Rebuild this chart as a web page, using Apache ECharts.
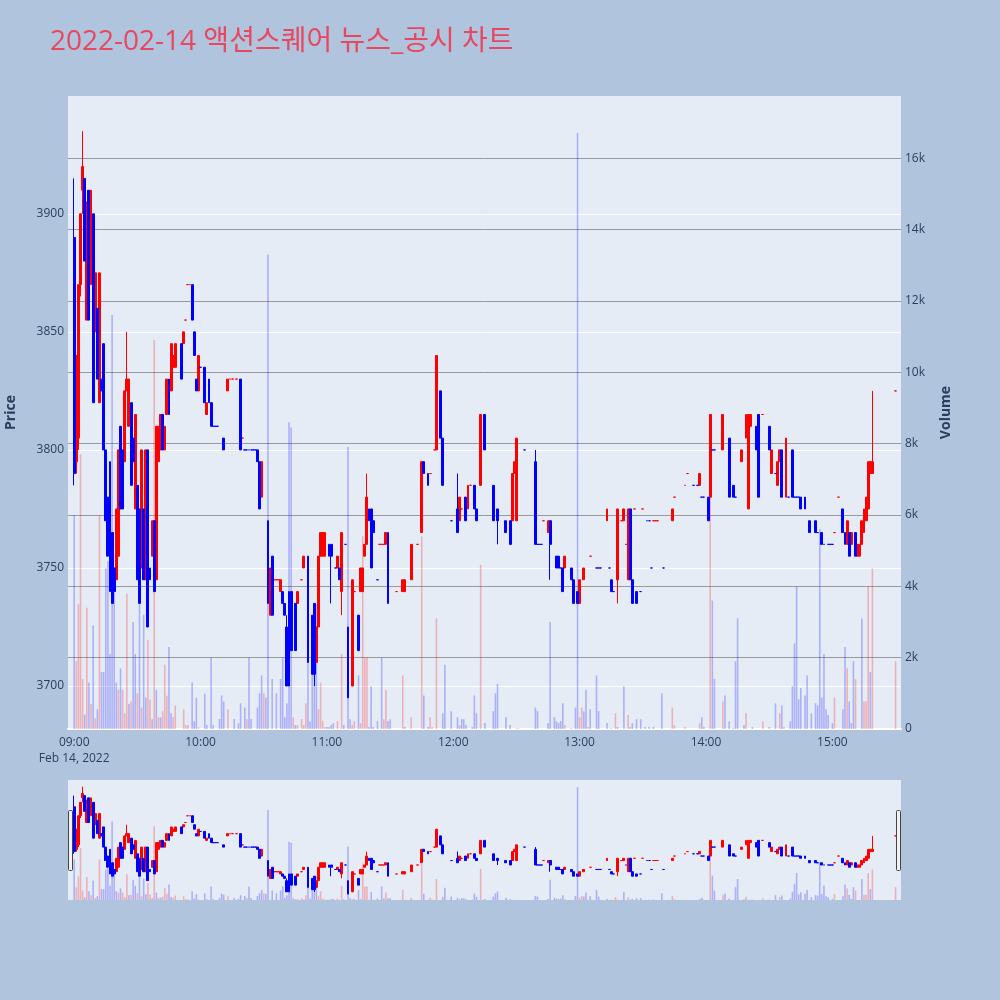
<!DOCTYPE html>
<html><head><meta charset="utf-8">
<script src="https://cdn.jsdelivr.net/npm/echarts@6/dist/echarts.min.js"></script>
<style>html,body{margin:0;padding:0;background:#b0c4de}#chart{width:1000px;height:1000px}</style>
</head><body><div id="chart"></div>
<script>
// rows: [minute after 09:00, open, high, low, close, dir]
const candles0900 = [
[0,3890,3915,3785,3790,'d'],[1,3795,3840,3790,3840,'u'],[2,3805,3870,3800,3870,'u'],[3,3870,3900,3865,3900,'u'],
[4,3910,3935,3900,3920,'u'],[5,3915,3915,3880,3880,'d'],[6,3855,3905,3855,3905,'u'],[7,3910,3910,3855,3855,'d'],
[8,3870,3910,3870,3910,'u'],[9,3900,3900,3820,3820,'d'],[10,3850,3875,3850,3875,'u'],[11,3860,3860,3830,3830,'d'],
[12,3820,3875,3820,3875,'u'],[13,3830,3830,3825,3825,'d'],[14,3845,3845,3800,3800,'d'],[15,3800,3800,3770,3770,'d'],
[16,3780,3780,3755,3755,'d'],[17,3795,3795,3740,3740,'d'],[18,3765,3765,3735,3735,'d'],[19,3750,3750,3740,3740,'d'],
[20,3745,3775,3745,3775,'u'],[21,3755,3800,3755,3800,'u'],[22,3810,3810,3775,3775,'d'],[23,3800,3800,3775,3775,'d'],
[24,3795,3825,3795,3825,'u'],[25,3825,3850,3825,3830,'u'],[26,3810,3830,3810,3830,'u'],[27,3820,3820,3785,3785,'d'],
[28,3805,3805,3795,3795,'d'],[29,3775,3815,3775,3815,'u'],[30,3785,3785,3745,3745,'d'],[31,3775,3775,3735,3735,'d'],
[32,3750,3800,3750,3800,'u'],[33,3775,3775,3745,3745,'d'],[34,3745,3800,3745,3800,'u'],[35,3800,3800,3725,3725,'d'],
[36,3750,3750,3745,3745,'d'],[37,3755,3770,3755,3770,'u'],[38,3770,3770,3740,3740,'d'],[39,3745,3810,3745,3810,'u'],
[40,3795,3810,3795,3810,'u'],[41,3800,3815,3800,3815,'u'],[42,3815,3815,3800,3800,'d'],[43,3800,3810,3800,3810,'u'],
[44,3815,3830,3815,3830,'u'],[45,3830,3830,3815,3815,'d'],[46,3825,3845,3825,3845,'u'],[47,3835,3840,3835,3840,'u'],
[48,3835,3845,3835,3845,'u'],
[51,3845,3845,3830,3830,'d'],[52,3845,3850,3845,3850,'u'],[53,3855,3855,3855,3855,'u'],[54,3870,3870,3870,3870,'u'],
[55,3870,3870,3870,3870,'u'],[56,3870,3870,3855,3855,'d'],[57,3850,3850,3840,3840,'d'],[58,3830,3830,3825,3825,'d'],
[59,3825,3840,3825,3840,'u']
];
const candles1000 = [
[60,3835,3835,3835,3835,'d'],[62,3835,3835,3820,3820,'d'],[63,3815,3820,3815,3820,'u'],[64,3830,3830,3820,3820,'d'],
[65,3820,3820,3810,3810,'d'],[66,3810,3810,3810,3810,'d'],[67,3810,3810,3810,3810,'d'],[68,3810,3810,3810,3810,'d'],
[71,3805,3805,3800,3800,'d'],[73,3825,3830,3825,3830,'u'],[74,3830,3830,3830,3830,'u'],[75,3830,3830,3830,3830,'u'],
[77,3830,3830,3830,3830,'u'],[79,3830,3830,3800,3800,'d'],[80,3805,3805,3805,3805,'u'],[81,3800,3800,3800,3800,'d'],
[82,3800,3800,3800,3800,'d'],[83,3800,3800,3800,3800,'d'],[84,3800,3800,3800,3800,'d'],[85,3800,3800,3800,3800,'d'],
[86,3800,3800,3800,3800,'d'],[87,3800,3800,3795,3795,'d'],[88,3795,3795,3775,3775,'d'],[89,3780,3795,3780,3795,'u'],
[92,3770,3770,3735,3735,'d'],[93,3730,3750,3730,3750,'u'],[94,3755,3755,3730,3730,'d'],[95,3745,3745,3745,3745,'u'],
[96,3745,3745,3745,3745,'u'],[97,3745,3745,3745,3745,'u'],[98,3740,3745,3740,3745,'u'],[99,3740,3740,3735,3735,'d'],
[100,3735,3735,3730,3730,'d'],[101,3725,3730,3700,3700,'d'],[102,3740,3740,3700,3700,'d'],[103,3740,3740,3715,3715,'d'],
[105,3735,3735,3715,3715,'d'],[106,3735,3740,3735,3740,'u'],[108,3745,3745,3745,3745,'u'],[109,3750,3755,3750,3755,'u'],
[111,3755,3755,3710,3710,'d'],[113,3730,3730,3705,3705,'d'],[114,3735,3735,3700,3705,'d'],[115,3710,3725,3710,3725,'u'],
[116,3725,3755,3725,3755,'u'],[117,3755,3765,3755,3765,'u'],[118,3755,3765,3755,3765,'u'],[119,3755,3765,3755,3765,'u']
];
const candles1100 = [
[121,3760,3760,3755,3755,'d'],[122,3760,3760,3735,3755,'d'],[124,3750,3750,3750,3750,'d'],[125,3750,3755,3750,3755,'u'],
[126,3750,3750,3745,3745,'d'],[127,3740,3765,3730,3765,'u'],[129,3760,3760,3760,3760,'d'],[130,3725,3725,3695,3695,'d'],
[132,3700,3745,3700,3745,'u'],[133,3740,3740,3740,3740,'u'],[135,3730,3730,3715,3715,'d'],[136,3740,3750,3740,3750,'u'],
[137,3740,3750,3740,3750,'u'],[138,3755,3760,3755,3760,'u'],[139,3760,3790,3760,3780,'u'],[140,3775,3775,3770,3770,'d'],
[141,3775,3775,3750,3750,'d'],[142,3770,3770,3765,3765,'d'],[144,3745,3745,3745,3745,'d'],[145,3760,3760,3760,3760,'u'],
[146,3760,3760,3760,3760,'u'],[147,3760,3760,3760,3760,'u'],[148,3760,3765,3760,3765,'u'],[149,3765,3765,3735,3735,'d'],
[153,3740,3740,3740,3740,'u'],[156,3740,3745,3740,3745,'u'],[157,3740,3745,3740,3745,'u'],[160,3745,3760,3745,3760,'u'],
[163,3760,3760,3760,3760,'u'],[165,3765,3795,3765,3795,'u'],[166,3795,3795,3790,3790,'d'],[168,3790,3790,3785,3785,'d'],
[169,3790,3790,3790,3790,'u'],[171,3800,3800,3800,3800,'u'],[172,3800,3840,3800,3840,'u'],[174,3825,3825,3805,3805,'d'],
[175,3805,3805,3785,3785,'d'],[179,3770,3770,3770,3770,'d']
];
const candles1200 = [
[182,3775,3790,3765,3765,'d'],[183,3770,3780,3770,3780,'u'],[184,3775,3775,3775,3775,'u'],[186,3780,3780,3770,3770,'d'],
[187,3775,3785,3775,3785,'u'],[188,3785,3785,3785,3785,'u'],[190,3785,3785,3775,3775,'d'],[191,3775,3775,3770,3770,'d'],
[193,3785,3815,3785,3815,'u'],[195,3815,3815,3800,3800,'d'],[199,3785,3785,3770,3770,'d'],[201,3775,3775,3760,3770,'d'],
[205,3770,3770,3765,3765,'d'],[207,3770,3770,3760,3760,'d'],[208,3770,3790,3770,3790,'u'],[209,3790,3795,3790,3795,'u'],
[210,3770,3805,3770,3805,'u'],[214,3800,3800,3800,3800,'d'],[219,3795,3800,3760,3760,'d'],[220,3760,3760,3760,3760,'d'],
[221,3760,3760,3760,3760,'d'],[222,3760,3760,3760,3760,'d'],[223,3770,3770,3770,3770,'u'],[225,3765,3770,3765,3770,'u'],
[226,3770,3770,3745,3760,'d'],[229,3755,3755,3750,3750,'d'],[230,3755,3755,3750,3750,'d'],[231,3750,3750,3750,3750,'d'],
[232,3750,3750,3740,3740,'d'],[233,3750,3755,3750,3755,'u'],[236,3750,3750,3745,3745,'d'],[237,3745,3745,3735,3735,'d'],
[239,3740,3740,3735,3735,'d']
];
const candles1300 = [
[240,3735,3745,3735,3745,'u'],[242,3745,3750,3745,3750,'u'],[245,3755,3755,3755,3755,'u'],[248,3750,3750,3750,3750,'d'],
[249,3750,3750,3750,3750,'d'],[250,3750,3750,3750,3750,'d'],[253,3770,3775,3770,3775,'u'],[254,3750,3750,3750,3750,'d'],
[255,3745,3745,3740,3740,'d'],[256,3740,3740,3740,3740,'d'],[258,3745,3775,3735,3775,'u'],[260,3770,3770,3770,3770,'u'],
[261,3770,3775,3770,3775,'u'],[262,3760,3760,3760,3760,'d'],[263,3745,3775,3745,3775,'u'],[264,3775,3775,3745,3745,'d'],
[265,3745,3745,3735,3735,'d'],[266,3775,3775,3775,3775,'u'],[267,3740,3740,3735,3735,'d'],[269,3740,3740,3740,3740,'d'],
[270,3775,3775,3775,3775,'u'],[272,3770,3770,3770,3770,'d'],[273,3770,3770,3770,3770,'d'],[274,3750,3750,3750,3750,'d'],
[275,3770,3770,3770,3770,'u'],[276,3770,3770,3770,3770,'u'],[277,3770,3770,3770,3770,'u'],[280,3750,3750,3750,3750,'d'],
[284,3770,3775,3770,3775,'u'],[285,3780,3780,3780,3780,'u'],[290,3785,3785,3785,3785,'u'],[291,3790,3790,3790,3790,'u'],
[294,3785,3785,3785,3785,'d'],[296,3785,3785,3785,3785,'d'],[297,3785,3790,3785,3790,'u'],[298,3780,3780,3780,3780,'d'],
[299,3780,3780,3780,3780,'d']
];
const candles1400 = [
[301,3780,3780,3770,3770,'d'],[302,3780,3815,3780,3815,'u'],[303,3800,3800,3800,3800,'d'],[304,3800,3800,3800,3800,'d'],
[308,3800,3815,3800,3815,'u'],[311,3805,3805,3780,3780,'d'],[313,3785,3785,3780,3780,'d'],[314,3780,3780,3780,3780,'d'],
[317,3795,3800,3795,3800,'u'],[319,3805,3815,3805,3815,'u'],[320,3775,3815,3775,3815,'u'],[321,3810,3815,3810,3815,'u'],
[324,3810,3810,3800,3800,'d'],[325,3815,3815,3780,3780,'d'],[327,3815,3815,3815,3815,'u'],[330,3810,3810,3800,3800,'d'],
[331,3790,3800,3790,3800,'u'],[333,3790,3790,3790,3790,'d'],[334,3785,3795,3785,3795,'u'],[335,3795,3800,3795,3800,'u'],
[336,3800,3800,3780,3780,'d'],[338,3780,3805,3780,3805,'u'],[339,3780,3780,3780,3780,'d'],[341,3800,3800,3780,3780,'d'],
[342,3780,3780,3780,3780,'d'],[343,3780,3780,3780,3780,'d'],[344,3780,3780,3780,3780,'d'],[345,3780,3780,3775,3775,'d'],
[347,3780,3780,3775,3775,'d'],[349,3770,3770,3765,3765,'d'],[352,3770,3770,3765,3765,'d'],[353,3765,3765,3765,3765,'d'],
[355,3765,3765,3760,3760,'d'],[356,3760,3760,3760,3760,'d'],[358,3760,3760,3760,3760,'d'],[359,3760,3760,3760,3760,'d']
];
const candles1500 = [
[360,3760,3760,3760,3760,'d'],[361,3765,3765,3765,3765,'u'],[363,3780,3780,3780,3780,'u'],[365,3775,3775,3765,3765,'d'],
[366,3765,3765,3760,3760,'d'],[367,3760,3770,3760,3770,'u'],[368,3765,3765,3755,3755,'d'],[369,3760,3765,3760,3765,'u'],
[371,3765,3765,3755,3755,'d'],[372,3755,3760,3755,3760,'u'],[373,3755,3760,3755,3760,'u'],[374,3760,3770,3760,3770,'u'],
[375,3765,3775,3765,3775,'u'],[376,3770,3780,3770,3780,'u'],[377,3775,3795,3775,3795,'u'],[378,3790,3795,3790,3795,'u'],
[379,3790,3825,3790,3795,'u'],[390,3825,3825,3825,3825,'u']
];
// rows: [minute after 09:00, volume, dir]
const volumesMorning = [
[0,6000,'d'],[1,1900,'u'],[2,3500,'u'],[3,7700,'u'],[4,1400,'u'],[5,400,'d'],[6,3400,'u'],[7,1300,'d'],[8,700,'u'],[9,2900,'d'],
[10,300,'u'],[11,550,'d'],[12,6000,'u'],[13,1600,'d'],[14,1600,'d'],[15,4500,'d'],[16,4700,'d'],[17,2100,'d'],[18,11600,'d'],[19,4400,'d'],
[20,1300,'d'],[21,1100,'u'],[22,1700,'d'],[23,1100,'u'],[24,440,'u'],[25,3800,'u'],[26,700,'d'],[27,770,'u'],[28,3000,'d'],[29,2100,'d'],
[30,1000,'u'],[31,3500,'d'],[32,600,'u'],[33,3200,'d'],[34,880,'d'],[35,2500,'u'],[36,820,'u'],[37,270,'d'],[38,10900,'u'],[39,1100,'d'],
[40,330,'u'],[41,330,'d'],[42,500,'u'],[43,1800,'u'],[44,930,'u'],[45,2300,'d'],[46,440,'d'],[47,330,'u'],[48,660,'u'],
[52,550,'u'],[53,110,'u'],[54,110,'u'],[56,1300,'d'],[57,220,'d'],[58,880,'d'],[59,50,'u'],[62,990,'d'],[63,110,'d'],[65,2000,'d'],
[66,110,'d'],[69,280,'d'],[70,940,'d'],[71,770,'d'],[73,550,'u'],[76,280,'d'],[78,160,'d'],[79,720,'d'],[81,600,'d'],[82,280,'u'],
[83,2000,'d'],[84,280,'d'],[87,600,'d'],[88,1000,'d'],[89,1500,'d'],[90,1000,'u'],[91,880,'d'],[92,13300,'d'],[94,1400,'d'],[96,1000,'d'],
[98,1400,'d'],[99,2000,'d'],[100,330,'d'],[101,720,'d'],[102,8600,'d'],[103,8450,'d'],[104,330,'u'],[105,110,'d'],[106,110,'u'],[108,280,'u'],
[109,110,'u'],[110,720,'u'],[111,2900,'d'],[112,220,'d'],[113,2000,'d'],[114,3200,'d'],[115,3500,'d'],[116,550,'u'],[117,1300,'u'],[118,220,'u'],
[119,55,'u'],[120,55,'d'],[121,55,'d'],[122,110,'d'],[123,165,'d'],[125,220,'u'],[127,2100,'u'],[128,110,'d'],[130,7900,'d'],[131,275,'d'],
[132,110,'u'],[133,220,'u'],[135,1500,'d'],[136,165,'u'],[137,5400,'u'],[138,2000,'u'],[139,2000,'u'],[140,55,'d'],[141,1200,'d'],[142,55,'d'],
[144,220,'d'],[146,2000,'d'],[147,275,'u'],[148,1100,'u'],[149,220,'d'],[150,275,'d']
];
const volumesAfternoon = [
[156,1500,'u'],[157,55,'d'],[160,330,'u'],[165,5400,'u'],[166,940,'d'],[168,55,'d'],[169,330,'u'],[170,55,'u'],[172,3100,'u'],[175,440,'d'],
[176,1800,'d'],[179,500,'d'],[182,330,'d'],[183,110,'u'],[184,275,'d'],[185,275,'d'],[186,110,'d'],[189,55,'d'],[190,940,'d'],[191,440,'d'],
[193,4600,'u'],[195,165,'d'],[199,500,'d'],[200,1000,'d'],[201,1265,'d'],[205,330,'d'],[207,110,'d'],[210,22,'u'],[211,22,'u'],[219,600,'d'],
[220,500,'d'],[225,165,'d'],[226,3000,'d'],[228,330,'d'],[229,220,'d'],[230,165,'d'],[231,220,'d'],[232,720,'d'],[233,110,'u'],[236,22,'d'],
[238,600,'d'],[239,16700,'d'],[240,330,'u'],[241,600,'u'],[242,500,'d'],[243,1100,'d'],[244,55,'u'],[245,550,'d'],[248,1500,'d'],[249,500,'d'],
[253,165,'d'],[255,22,'d'],[257,440,'u'],[258,55,'d'],[261,1200,'d'],[263,390,'u'],[264,55,'d'],[265,165,'d'],[267,275,'d'],[269,275,'d'],
[271,55,'d'],[273,55,'d'],[275,55,'d'],[279,1000,'d'],[284,600,'u'],[285,110,'u'],[290,55,'u'],[297,165,'u'],[298,330,'d'],[299,55,'d'],
[302,6700,'u'],[303,3600,'d'],[304,1400,'d'],[308,770,'u'],[309,940,'d'],[311,220,'d'],[313,22,'d'],[314,1900,'d'],[315,3100,'d'],[318,110,'d'],
[319,440,'u'],[322,55,'d'],[327,220,'u'],[330,55,'d'],[333,720,'d'],[335,440,'u'],[336,660,'d'],[337,55,'u'],[340,220,'d'],[341,1200,'d'],
[342,2400,'d'],[343,4000,'d'],[344,830,'d'],[345,1150,'d'],[347,940,'d'],[348,1500,'d'],[350,440,'d'],[352,720,'d'],[353,660,'d'],[354,5600,'d'],
[355,880,'d'],[356,2100,'d'],[357,550,'d'],[358,390,'d'],[360,165,'d'],[361,880,'u'],[365,550,'d'],[366,2300,'d'],[367,1700,'u'],[368,770,'d'],
[369,165,'d'],[370,1900,'d'],[371,1400,'u'],[374,3100,'d'],[375,770,'u'],[376,770,'u'],[377,4000,'u'],[378,1600,'d'],[379,4500,'u'],[390,1900,'u']
];
const priceTicks = [3700, 3750, 3800, 3850, 3900];
const volumeTickLabels = ['0','2k','4k','6k','8k','10k','12k','14k','16k'];

const BASE = Date.UTC(2022, 1, 14, 9, 0, 0);
const toTime = m => BASE + m * 60000;
const FONT = '"Open Sans", "Noto Sans CJK KR", sans-serif';
const UP = '#ff0000', DOWN = '#0000ff';
const UPV = 'rgba(255,0,0,0.25)', DOWNV = 'rgba(0,0,255,0.25)';
const TXT = '#2a3f5f';

const allCandles = [].concat(candles0900, candles1000, candles1100, candles1200, candles1300, candles1400, candles1500);
const allVolumes = [].concat(volumesMorning, volumesAfternoon);

const candleUp = allCandles.filter(r => r[5] === 'u').map(r => [toTime(r[0]), r[1], r[4], r[3], r[2]]);
const candleDown = allCandles.filter(r => r[5] === 'd').map(r => [toTime(r[0]), r[1], r[4], r[3], r[2]]);
const volUp = allVolumes.filter(r => r[2] === 'u').map(r => [toTime(r[0]), r[1]]);
const volDown = allVolumes.filter(r => r[2] === 'd').map(r => [toTime(r[0]), r[1]]);

const X_MIN = toTime(-2.56), X_MAX = toTime(392.2);
const P_MIN = 3681.8, P_MAX = 3949.9;
const V_MAX = 17740;

const candleStyle = c => ({ color: c, color0: c, borderColor: c, borderColor0: c, borderColorDoji: c, borderWidth: 1 });
function candleSeries(data, c, xi, yi) {
  return { type: 'candlestick', xAxisIndex: xi, yAxisIndex: yi, data: data, barWidth: 2.4, z: 3,
    itemStyle: candleStyle(c), emphasis: { disabled: true }, silent: true, large: false };
}
function volSeries(data, c, xi, yi) {
  return { type: 'bar', xAxisIndex: xi, yAxisIndex: yi, data: data, barWidth: 1.6, barGap: '-100%', z: 1,
    itemStyle: { color: c }, silent: true, large: false };
}

const pad = n => String(n).padStart(2, '0');
const chart = echarts.init(document.getElementById('chart'), null, { renderer: 'canvas' });
chart.setOption({
  useUTC: true,
  animation: false,
  backgroundColor: '#b0c4de',
  textStyle: { fontFamily: FONT },
  title: { text: '2022-02-14 액션스퀘어 뉴스_공시 차트', left: 45, top: 23,
    textStyle: { color: '#e8475f', fontSize: 28, fontWeight: 'normal', fontFamily: FONT } },
  grid: [
    { left: 68, top: 96, width: 833, height: 633, show: true, backgroundColor: '#e5ecf6', borderWidth: 0, outerBoundsMode: 'none', containLabel: false },
    { left: 68, top: 780, width: 833, height: 120, show: true, backgroundColor: '#e5ecf6', borderWidth: 0, outerBoundsMode: 'none', containLabel: false }
  ],
  xAxis: [
    { type: 'time', gridIndex: 0, min: X_MIN, max: X_MAX, minInterval: 3600000, maxInterval: 3600000,
      axisLine: { show: true, onZero: false, lineStyle: { color: '#ffffff', width: 2 } },
      axisTick: { show: false }, splitLine: { show: false }, minorTick: { show: false },
      axisLabel: { color: TXT, fontSize: 12, fontFamily: FONT, margin: 6, lineHeight: 16, hideOverlap: false,
        formatter: function (v) { const d = new Date(v); const s = pad(d.getUTCHours()) + ':' + pad(d.getUTCMinutes());
          return s === '09:00' ? s + '\nFeb 14, 2022' : s; } } },
    { type: 'time', gridIndex: 1, min: X_MIN, max: X_MAX, show: false }
  ],
  yAxis: [
    { type: 'value', gridIndex: 0, position: 'left', min: P_MIN, max: P_MAX, splitNumber: 5,
      axisLine: { show: false }, axisTick: { show: false },
      axisLabel: { color: TXT, fontSize: 12, fontFamily: FONT, margin: 4, showMinLabel: false, showMaxLabel: false,
        formatter: v => (priceTicks.indexOf(Math.round(v)) >= 0 && Math.abs(v - Math.round(v)) < 1e-6) ? String(Math.round(v)) : '' },
      splitLine: { show: true, showMinLine: false, showMaxLine: false, lineStyle: { color: '#ffffff', width: 1 } },
      name: 'Price', nameLocation: 'middle', nameGap: 50, nameRotate: 90,
      nameTextStyle: { color: TXT, fontSize: 14, fontWeight: 'bold', fontFamily: FONT } },
    { type: 'value', gridIndex: 0, position: 'right', min: 0, max: V_MAX, interval: 2000,
      axisLine: { show: false }, axisTick: { show: false },
      axisLabel: { color: TXT, fontSize: 12, fontFamily: FONT, margin: 4, showMaxLabel: false,
        formatter: v => (v % 2000 === 0 && v / 2000 < volumeTickLabels.length) ? volumeTickLabels[v / 2000] : '' },
      splitLine: { show: true, showMinLine: false, showMaxLine: false, lineStyle: { color: '#9a9a9a', width: 1 } },
      name: 'Volume', nameLocation: 'middle', nameGap: 38, nameRotate: 90,
      nameTextStyle: { color: TXT, fontSize: 14, fontWeight: 'bold', fontFamily: FONT } },
    { type: 'value', gridIndex: 1, min: P_MIN, max: P_MAX, show: false, splitLine: { show: false } },
    { type: 'value', gridIndex: 1, min: 0, max: V_MAX, show: false, splitLine: { show: false } }
  ],
  series: [
    volSeries(volUp, UPV, 0, 1), volSeries(volDown, DOWNV, 0, 1),
    candleSeries(candleUp, UP, 0, 0), candleSeries(candleDown, DOWN, 0, 0),
    volSeries(volUp, UPV, 1, 3), volSeries(volDown, DOWNV, 1, 3),
    candleSeries(candleUp, UP, 1, 2), candleSeries(candleDown, DOWN, 1, 2)
  ],
  graphic: [
    { type: 'rect', left: 68, top: 810, shape: { width: 4, height: 60, r: 1 }, style: { fill: '#f2f2f2', stroke: '#444', lineWidth: 1 }, z: 100 },
    { type: 'rect', left: 896, top: 810, shape: { width: 4, height: 60, r: 1 }, style: { fill: '#f2f2f2', stroke: '#444', lineWidth: 1 }, z: 100 }
  ]
});
</script></body></html>
